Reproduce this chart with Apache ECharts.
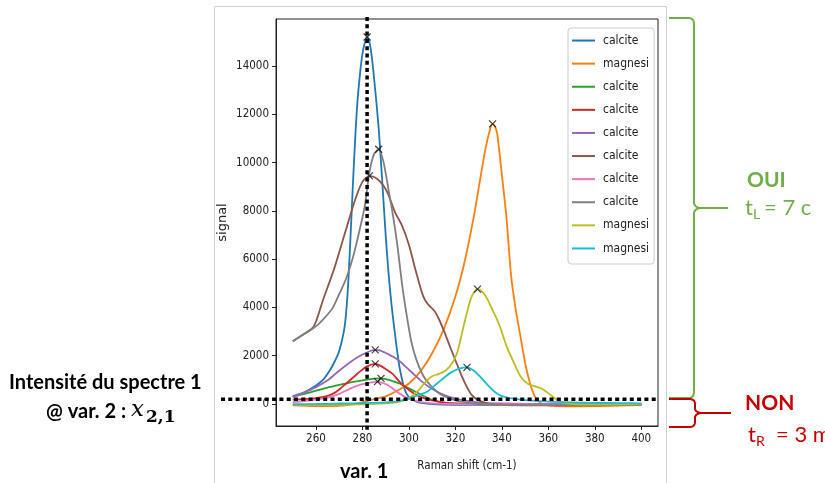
<!DOCTYPE html>
<html>
<head>
<meta charset="utf-8">
<script src="https://cdn.jsdelivr.net/npm/echarts@6/dist/echarts.min.js"></script>
<style>
html,body{margin:0;padding:0;background:#fff;}
#c{width:825px;height:483px;}
</style>
</head>
<body>
<div id="c"></div>
<script>
// ---- data ----
const legendLabels = ['calcite','magnesi','calcite','calcite','calcite','calcite','calcite','calcite','magnesi','magnesi'];
const xTicks = [260,280,300,320,340,360,380,400];
const yTicks = [0,2000,4000,6000,8000,10000,12000,14000];

const calcite1 = [[250,330],[255,480],[259,700],[263,1000],[266,1400],[268,1750],[270,2200],[272,3000],[273,3800],[274,5200],[275,7200],[276,9300],[277,11200],[278,12700],[280,14500],[282,15200],[283,15000],[284,14400],[285,13500],[286,12500],[287,11400],[288,10000],[289,8500],[290,7000],[291,5700],[292,4600],[293,3700],[294,2900],[295,2150],[296,1500],[298,650],[300,280],[303,110],[306,40],[310,0],[320,-30],[330,-40],[340,-40],[350,-40],[360,-40],[370,-40],[380,-30],[390,-30],[400,-20]];
const magnesi1 = [[250,-60],[260,-90],[270,-80],[275,-30],[280,80],[285,200],[290,320],[295,550],[300,850],[305,1350],[310,2100],[315,3100],[320,4450],[324,5900],[328,7800],[331,9500],[333,10600],[335,11400],[336,11600],[337,11500],[338,11200],[340,9500],[342,7700],[344,5300],[346,3900],[348,2800],[350,1700],[352,900],[354,350],[356,100],[358,-20],[362,-80],[370,-100],[380,-90],[390,-70],[400,-50]];
const calcite2 = [[250,300],[255,420],[260,550],[265,680],[270,790],[275,900],[280,980],[285,1050],[288,1060],[290,1030],[293,950],[296,850],[300,650],[303,500],[307,300],[310,170],[315,60],[320,10],[330,-10],[340,-20],[360,-20],[380,-20],[400,-10]];
const calcite3 = [[250,180],[255,200],[260,240],[265,340],[268,460],[270,600],[273,850],[276,1100],[279,1350],[282,1560],[285.5,1660],[287,1620],[290,1450],[293,1250],[296,920],[299,660],[303,380],[307,220],[310,150],[315,60],[320,20],[330,0],[350,-20],[400,-20]];
const calcite4 = [[250,300],[255,480],[260,700],[265,980],[270,1380],[275,1750],[280,2050],[285.5,2240],[288,2200],[291,2070],[295,1850],[300,1420],[305,980],[310,620],[315,380],[320,220],[325,130],[330,70],[340,20],[350,0],[400,-20]];
const calcite5 = [[250,2600],[254,2850],[259,3200],[263,4300],[268,5650],[273,7250],[277,8500],[280,9200],[283,9450],[286,9350],[289,9050],[291,8700],[294,7950],[297,7400],[300,6600],[303,5500],[306,4500],[308,4150],[311,3850],[313,3500],[315,3050],[318,2300],[320.5,1700],[323,1100],[325,700],[327,380],[330,150],[334,20],[340,-40],[350,-60],[370,-60],[400,-40]];
const calcite6 = [[250,80],[255,120],[260,180],[265,260],[270,420],[275,650],[280,820],[284,900],[286.5,930],[289,860],[291,780],[293,640],[296,430],[299,260],[302,150],[306,70],[310,30],[320,0],[340,-20],[400,-10]];
const calcite7 = [[250,2600],[254,2850],[259,3150],[261,3300],[264,3600],[267,3950],[270,4550],[273,5200],[276,6100],[279,7300],[281,8200],[283,9600],[285,10350],[287,10550],[289,10050],[291,9000],[293,7900],[295,6600],[297,5000],[299,3700],[301,2600],[303,1900],[306,1200],[309,800],[312,520],[315,330],[320,150],[325,60],[330,0],[340,-40],[360,-50],[400,-40]];
const magnesi2 = [[250,-40],[260,-40],[270,-30],[280,-10],[290,30],[295,80],[298,160],[301,300],[304,550],[307,900],[310,1150],[313,1250],[316,1400],[319,1750],[321,2200],[323,3000],[325,3800],[327,4450],[329.5,4760],[331,4700],[333,4480],[336,3900],[339,3250],[342,2400],[345,1750],[348,1150],[351,850],[354,740],[357,640],[360,450],[363,220],[366,70],[370,0],[380,-20],[390,-20],[400,-10]];
const magnesi3 = [[250,-10],[260,0],[270,20],[280,40],[290,70],[295,110],[300,220],[305,400],[308,520],[311,760],[314,1000],[318,1300],[322,1480],[325,1520],[328,1380],[331,1100],[334,780],[337,500],[340,330],[345,220],[350,160],[360,100],[370,70],[380,50],[390,40],[400,30]];

const markerX = 282;   // vertical dotted guide (var. 1)
const markerY = 200;   // horizontal dotted guide (var. 2)

const seriesData = [calcite1, magnesi1, calcite2, calcite3, calcite4, calcite5, calcite6, calcite7, magnesi2, magnesi3];
const colors = ['#1f77b4','#ff7f0e','#2ca02c','#d62728','#9467bd','#8c564b','#e377c2','#7f7f7f','#bcbd22','#17becf'];

// ---- chart ----
const chart = echarts.init(document.getElementById('c'), null, {renderer:'canvas'});
const tickFont = "'DejaVu Sans Condensed','DejaVu Sans',sans-serif";

const names = legendLabels.map((l,i)=> l + '#' + i);
const lineSeries = seriesData.map((d,i)=>({
  type:'line', name:names[i], data:d, showSymbol:false, symbol:'none',
  smooth:0.25, lineStyle:{color:colors[i], width:1.8}, itemStyle:{color:colors[i]},
  z: 2 + i*0.01, animation:false
}));
const peaks = seriesData.map(d => d.reduce((a,b)=> b[1]>a[1]?b:a));

const option = {
  animation:false,
  grid:{left:276, right:167, top:19, bottom:57, show:true, borderColor:'#222', borderWidth:1, backgroundColor:'transparent'},
  xAxis:{
    type:'value', min:242.8, max:407.2,
    name:'Raman shift (cm-1)', nameLocation:'middle', nameGap:34,
    nameTextStyle:{fontFamily:tickFont, fontSize:11.5, color:'#222'},
    axisLine:{show:true, onZero:false, lineStyle:{color:'#222', width:1}},
    axisTick:{show:true, length:4, lineStyle:{color:'#222'}, customValues:xTicks},
    axisLabel:{customValues:xTicks, fontFamily:tickFont, fontSize:11.5, color:'#222', margin:7, formatter:v=>String(v)},
    splitLine:{show:false}
  },
  yAxis:{
    type:'value', min:-911, max:15947,
    name:'signal', nameLocation:'middle', nameGap:47, nameRotate:90,
    nameTextStyle:{fontFamily:"'DejaVu Sans',sans-serif", fontSize:13, color:'#222'},
    axisLine:{show:true, onZero:false, lineStyle:{color:'#222', width:1}},
    axisTick:{show:true, length:4, lineStyle:{color:'#222'}, customValues:yTicks},
    axisLabel:{customValues:yTicks, fontFamily:tickFont, fontSize:11.5, color:'#222', margin:7, formatter:v=>String(v)},
    splitLine:{show:false}
  },
  legend:{
    data:names, orient:'vertical', left:568, top:28, itemGap:0,
    itemWidth:23, itemHeight:2, icon:'rect',
    padding:[1,5,4,4],
    backgroundColor:'rgba(255,255,255,0.85)', borderColor:'#cccccc', borderWidth:1, borderRadius:3,
    formatter:n=>n.split('#')[0],
    textStyle:{fontFamily:tickFont, fontSize:12, color:'#222', lineHeight:23.1, padding:[0,0,0,3]},
    selectedMode:false
  },
  series: lineSeries.concat([{
    type:'scatter', name:'peaks', data:peaks, symbol:'path://M0,0L10,10M10,0L0,10', symbolSize:7,
    itemStyle:{color:'rgba(0,0,0,0)', borderColor:'#111', borderWidth:1.2}, z:5, silent:true
  }])
};
chart.setOption(option);

const p = chart.convertToPixel({gridIndex:0}, [markerX, markerY]);
const green = '#70AD47', red = '#C00000';
const txtFont = "Lato, 'Open Sans', sans-serif";

// flatten a path made of L / Q segments into polyline points
function brace(segs){
  const pts = [segs[0]];
  for (let i=1;i<segs.length;i++){
    const s = segs[i];
    const last = pts[pts.length-1];
    if (s.length === 2) { pts.push(s); }
    else {
      const [cx,cy,x,y] = s;
      for (let t=1;t<=8;t++){
        const u=t/8;
        pts.push([(1-u)*(1-u)*last[0]+2*(1-u)*u*cx+u*u*x,(1-u)*(1-u)*last[1]+2*(1-u)*u*cy+u*u*y]);
      }
    }
  }
  return pts;
}
function PL(pts, color){ return {type:'polyline', z:100, shape:{points:pts}, style:{stroke:color, lineWidth:2, fill:null}}; }
function T(text, x, y, font, fill){
  return {type:'text', z:110, style:{text:text, x:x, y:y, font:font, fill:fill, textVerticalAlign:'middle', verticalAlign:'middle'}};
}
chart.setOption({graphic:[
  {type:'polyline', z:1, shape:{points:[[214.5,483],[214.5,6.5],[666.5,6.5],[666.5,483]]}, style:{stroke:'#d0d0d0', lineWidth:1, fill:null}},
  {type:'line', z:100, shape:{x1:p[0], y1:17, x2:p[0], y2:430}, style:{stroke:'#000', lineWidth:3.5, lineDash:[4,3.3]}},
  {type:'line', z:100, shape:{x1:221, y1:p[1], x2:658, y2:p[1]}, style:{stroke:'#000', lineWidth:3.5, lineDash:[4,3.3]}},
  PL(brace([[669,18],[688,18],[694,18,694,24],[694,202],[694,208,702,208],[728,208]]), green),
  PL(brace([[702,208],[694,208,694,214],[694,392],[694,398,688,398],[669,398]]), green),
  PL(brace([[669,399],[689,399],[695,399,695,404],[695,408],[695,413,703,413],[731,413]]), red),
  PL(brace([[703,413],[695,413,695,418],[695,422],[695,427,689,427],[669,427]]), red),
  T('OUI', 747, 180, 'bold 21px '+txtFont, green),
  T('t', 745, 208, '22px '+txtFont, green),
  T('L', 753, 214, '14px '+txtFont, green),
  T('= 7 c', 764, 208, '22px '+txtFont, green),
  T('NON', 745, 403, 'bold 21px '+txtFont, red),
  T('t', 748, 435, '22px '+txtFont, red),
  T('R', 756, 441, '14px '+txtFont, red),
  T('= 3 m', 776, 435, '22px '+txtFont, red),
  T('Intensité du spectre 1', 9, 383, 'bold 20px '+txtFont, '#000'),
  T('@ var. 2 :', 46, 412, 'bold 20px '+txtFont, '#000'),
  T('x', 131, 410, 'italic 23px "DejaVu Serif", serif', '#000'),
  T('2,1', 146, 418, 'bold 17px "DejaVu Serif", serif', '#000'),
  T('var. 1', 340, 472, 'bold 20px '+txtFont, '#000')
]});
</script>
</body>
</html>
